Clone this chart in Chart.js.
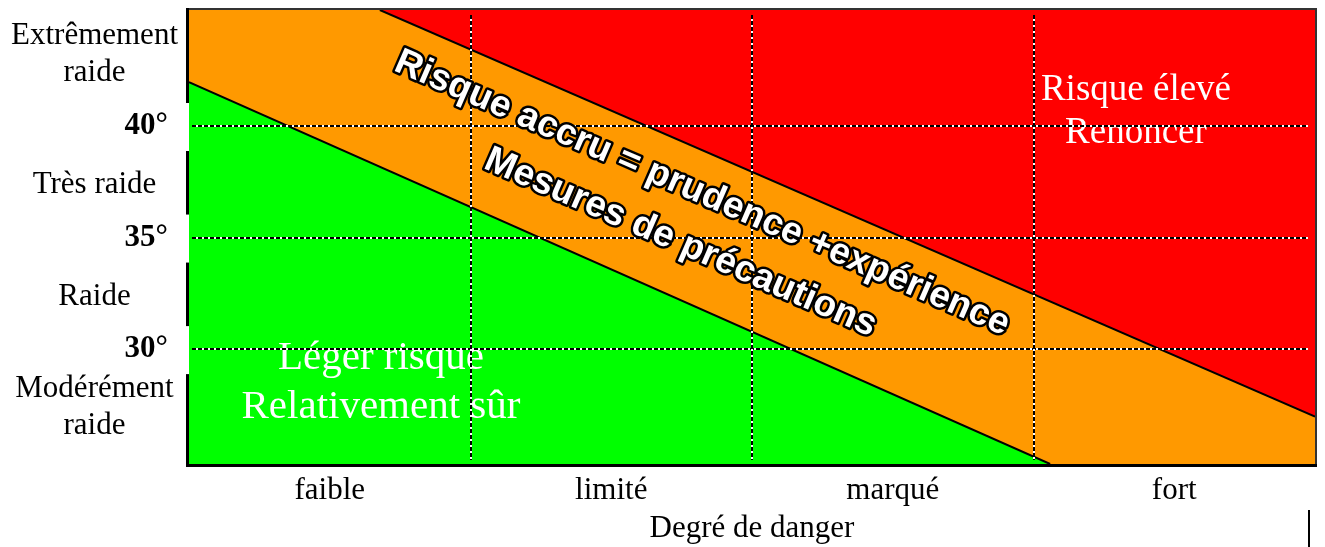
<!DOCTYPE html>
<html><head><meta charset="utf-8">
<script src="https://cdn.jsdelivr.net/npm/chart.js@4/dist/chart.umd.min.js"></script>
<style>html,body{margin:0;padding:0;background:#fff}#wrap{width:1325px;height:547px;position:relative}</style>
</head><body><div id="wrap"><canvas id="c"></canvas></div>
<script>
// ---- data ----
const dangerLevels = ['faible', 'limité', 'marqué', 'fort'];
const dangerRange = [0, 4];
const slopeRange = [24.85, 45.2];
const slopeTicks = [30, 35, 40];
const slopeClasses = [['Extrêmement', 'raide'], ['Très raide'], ['Raide'], ['Modérément', 'raide']];
const slopeClassCenters = [43.2, 37.36, 32.36, 27.4];
const redZone = [{x: 0, y: 45.2}, {x: 4, y: 45.2}];
const upperBoundary = [{x: 0, y: 45.2}, {x: 0.678, y: 45.2}, {x: 4, y: 26.97}];
const lowerBoundary = [{x: 0, y: 41.97}, {x: 3.059, y: 24.85}, {x: 4, y: 24.85}];
const lowZoneText = ['Léger risque', 'Relativement sûr'];
const lowZoneAt = {x: 0.682, y: 29.12};
const highZoneText = ['Risque élevé', 'Renoncer'];
const highZoneAt = {x: 3.364, y: 41.16};
const midZoneText = ['Risque accru = prudence +expérience', 'Mesures de précautions'];
const midZoneAt = {x: 1.77, y: 35.45};
const axisTitle = 'Degré de danger';

const SERIF = '"Liberation Serif", "Times New Roman", serif';
const SANS = '"Liberation Sans", Arial, sans-serif';

const overlay = {
  id: 'overlay',
  afterDatasetsDraw(chart) {
    const {ctx, chartArea: a, scales: {x, y}} = chart;
    ctx.save();
    // white zone labels
    ctx.fillStyle = '#fff';
    ctx.textAlign = 'center';
    ctx.textBaseline = 'alphabetic';
    ctx.font = '41px ' + SERIF;
    lowZoneText.forEach((t, i) => ctx.fillText(t, x.getPixelForValue(lowZoneAt.x), y.getPixelForValue(lowZoneAt.y) + i * 49));
    ctx.font = '37px ' + SERIF;
    highZoneText.forEach((t, i) => ctx.fillText(t, x.getPixelForValue(highZoneAt.x), y.getPixelForValue(highZoneAt.y) + i * 43));

    // grid lines (black dashes over white)
    const gridLine = (x1, y1, x2, y2) => {
      ctx.lineWidth = 2;
      ctx.setLineDash([]);
      ctx.strokeStyle = '#fff';
      ctx.beginPath(); ctx.moveTo(x1, y1); ctx.lineTo(x2, y2); ctx.stroke();
      ctx.setLineDash([4, 2]);
      ctx.strokeStyle = '#000';
      ctx.beginPath(); ctx.moveTo(x1, y1); ctx.lineTo(x2, y2); ctx.stroke();
      ctx.setLineDash([]);
    };
    slopeTicks.forEach(v => {
      const py = Math.round(y.getPixelForValue(v));
      gridLine(a.left + 3, py, a.right - 7, py);
    });
    for (let i = 1; i < dangerLevels.length; i++) {
      const px = Math.round(x.getPixelForValue(i));
      gridLine(px, a.top + 5, px, a.bottom - 4);
    }

    // rotated band text
    const p1x = x.getPixelForValue(upperBoundary[1].x), p1y = y.getPixelForValue(upperBoundary[1].y);
    const p2x = x.getPixelForValue(upperBoundary[2].x), p2y = y.getPixelForValue(upperBoundary[2].y);
    const ang = Math.atan2(p2y - p1y, p2x - p1x);
    ctx.save();
    ctx.translate(x.getPixelForValue(midZoneAt.x), y.getPixelForValue(midZoneAt.y));
    ctx.rotate(ang);
    ctx.font = 'bold 37px ' + SANS;
    ctx.textAlign = 'center';
    ctx.textBaseline = 'alphabetic';
    ctx.lineJoin = 'round';
    ctx.lineWidth = 5;
    ctx.strokeStyle = '#000';
    ctx.fillStyle = '#fff';
    midZoneText.forEach((t, i) => {
      const oy = (i - 0.5) * 54;
      ctx.strokeText(t, 0, oy);
      ctx.fillText(t, 0, oy);
    });
    ctx.restore();

    // frame
    ctx.fillStyle = '#333';
    ctx.fillRect(a.left - 1, a.top - 2, a.right - a.left + 3, 2);
    ctx.fillRect(a.right, a.top - 2, 2, a.bottom - a.top + 4);
    ctx.fillStyle = '#000';
    ctx.fillRect(a.left - 3, a.top - 2, 3, a.bottom - a.top + 5);
    ctx.fillRect(a.left - 3, a.bottom, a.right - a.left + 5, 3);
    // gaps in left frame behind degree labels
    ctx.fillStyle = '#fff';
    slopeTicks.forEach(v => {
      const py = y.getPixelForValue(v);
      ctx.fillRect(a.left - 4, py - 23, 4, 48);
    });

    // slope class labels
    ctx.fillStyle = '#000';
    ctx.font = '31px ' + SERIF;
    ctx.textAlign = 'center';
    ctx.textBaseline = 'middle';
    slopeClasses.forEach((lines, k) => {
      const cy = y.getPixelForValue(slopeClassCenters[k]);
      lines.forEach((t, i) => ctx.fillText(t, a.left / 2, cy + (i - (lines.length - 1) / 2) * 37));
    });

    // small stray mark bottom right
    ctx.fillRect(a.right - 7, chart.height - 37, 2, 37);
    ctx.restore();
  }
};

const zoneStyle = {pointRadius: 0, tension: 0, borderWidth: 0, borderColor: 'rgba(0,0,0,0)', fill: 'start'};
const lineStyle = {pointRadius: 0, tension: 0, borderWidth: 2, borderColor: '#000', fill: false};

new Chart(document.getElementById('c'), {
  type: 'line',
  data: {
    datasets: [
      {label: 'Limite haute', data: upperBoundary.slice(1), ...lineStyle},
      {label: 'Limite basse', data: lowerBoundary.slice(0, 2), ...lineStyle},
      {label: 'Léger risque', data: lowerBoundary, backgroundColor: '#00ff00', ...zoneStyle},
      {label: 'Risque accru', data: upperBoundary, backgroundColor: '#ff9900', ...zoneStyle},
      {label: 'Risque élevé', data: redZone, backgroundColor: '#ff0000', ...zoneStyle}
    ]
  },
  options: {
    responsive: true,
    maintainAspectRatio: false,
    animation: false,
    layout: {padding: {top: 10, right: 10, left: 0, bottom: 0}},
    plugins: {legend: {display: false}, tooltip: {enabled: false}},
    scales: {
      x: {
        type: 'linear', min: dangerRange[0], max: dangerRange[1],
        grid: {display: false, drawTicks: false}, border: {display: false},
        afterBuildTicks: s => { s.ticks = dangerLevels.map((_, i) => ({value: i + 0.5})); },
        afterFit: s => { s.height = 83; s.paddingLeft = 0; s.paddingRight = 0; },
        ticks: {
          autoSkip: false, maxRotation: 0, padding: 8, color: '#000',
          font: {family: SERIF, size: 31},
          callback: v => dangerLevels[Math.floor(v)]
        },
        title: {display: true, text: axisTitle, color: '#000', font: {family: SERIF, size: 31}, padding: {top: 4, bottom: 0}}
      },
      y: {
        type: 'linear', min: slopeRange[0], max: slopeRange[1],
        grid: {display: false, drawTicks: false}, border: {display: false},
        afterBuildTicks: s => { s.ticks = slopeTicks.map(v => ({value: v})); },
        afterFit: s => { s.width = 189; s.paddingTop = 0; s.paddingBottom = 0; },
        ticks: {
          padding: 21, color: '#000',
          font: {family: SERIF, size: 31, weight: 'bold'},
          callback: v => v + '°'
        }
      }
    }
  },
  plugins: [overlay]
});
</script>
</body></html>
